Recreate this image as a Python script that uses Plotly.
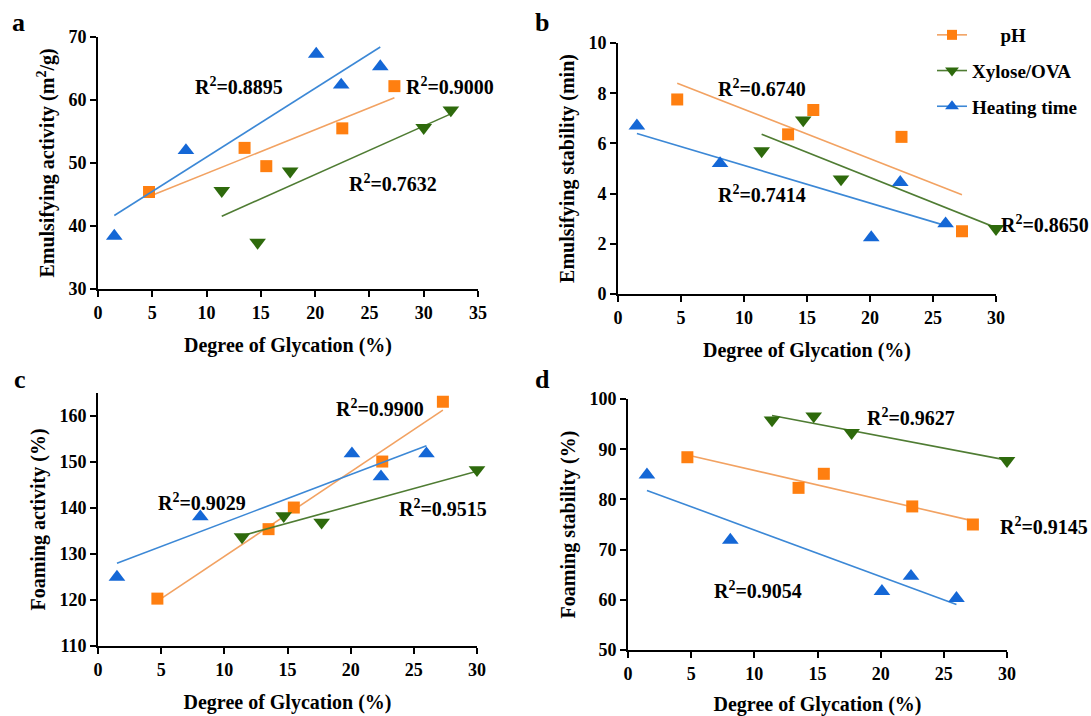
import numpy as np
import plotly.graph_objects as go

W, H = 1091, 716
FONT = "Liberation Serif"

# ---------------- data ----------------
series_names = ["pH", "Xylose/OVA", "Heating time"]

# Degree of glycation (%)
x_ph = [4.7, 13.5, 15.5, 22.5, 27.3]
x_xylose_a = [11.4, 14.7, 17.7, 30.0, 32.5]
x_xylose = [11.4, 14.7, 17.7, 30.0]
x_heat = [1.5, 8.1, 20.1, 22.4, 26.0]

# a: Emulsifying activity (m2/g)
ea_ph = [45.4, 52.4, 49.5, 55.5, 62.2]
ea_xylose = [45.6, 37.4, 48.7, 55.6, 58.4]
ea_heat = [38.4, 52.0, 67.3, 62.4, 65.3]
# b: Emulsifying stability (min)
es_ph = [7.75, 6.36, 7.33, 6.26, 2.5]
es_xylose = [5.7, 6.93, 4.58, 2.6]
es_heat = [6.7, 5.2, 2.25, 4.45, 2.8]
# c: Foaming activity (%)
fa_ph = [120.3, 135.4, 140.1, 150.1, 163.1]
fa_xylose = [133.7, 138.3, 136.9, 148.3]
fa_heat = [125.0, 138.1, 151.8, 146.8, 151.8]
# d: Foaming stability (%)
fs_ph = [88.4, 82.3, 85.1, 78.6, 75.0]
fs_xylose = [95.8, 96.6, 93.3, 87.7]
fs_heat = [84.9, 71.9, 61.7, 64.7, 60.3]

# R2 labels
r2_a = ["0.8895", "0.9000", "0.7632"]
r2_b = ["0.6740", "0.7414", "0.8650"]
r2_c = ["0.9900", "0.9029", "0.9515"]
r2_d = ["0.9627", "0.9145", "0.9054"]

# ---------------- styles ----------------
MK = {"pH": "#FF7F10", "Xylose/OVA": "#2E6A0C", "Heating time": "#1467D6"}
LN = {"pH": "#F2A262", "Xylose/OVA": "#4F7C33", "Heating time": "#3C88D6"}
SYM = {"pH": "square", "Xylose/OVA": "triangle-down", "Heating time": "triangle-up"}
MSIZE = {"pH": 12, "Xylose/OVA": 14.5, "Heating time": 14.5}
LEG_MSIZE = {"pH": 10, "Xylose/OVA": 12, "Heating time": 12}

fig = go.Figure()


def px_x(p):
    return p / W


def px_y(p):
    return 1 - p / H


panels = [
    ("", [x_ph, x_xylose_a, x_heat], [ea_ph, ea_xylose, ea_heat],
     (98, 478), (37, 289), [0, 35], [30, 70], 10, "Emulsifying activity (m<sup>2</sup>/g)"),
    ("2", [x_ph, x_xylose, x_heat], [es_ph, es_xylose, es_heat],
     (618, 996), (43, 294), [0, 30], [0, 10], 2, "Emulsifying stability (min)"),
    ("3", [x_ph, x_xylose, x_heat], [fa_ph, fa_xylose, fa_heat],
     (98, 477), (393, 646), [0, 30], [110, 165], 10, "Foaming activity (%)"),
    ("4", [x_ph, x_xylose, x_heat], [fs_ph, fs_xylose, fs_heat],
     (628, 1007), (399, 650), [0, 30], [50, 100], 10, "Foaming stability (%)"),
]
panel_geom = {}

TICKFONT = dict(family=FONT, size=18, color="black", weight="bold")
TITLEFONT = dict(family=FONT, size=20, color="black", weight="bold")

layout_axes = {}
for suf, xs, ys, xd, yd, xr, yr, ydt, ytitle in panels:
    panel_geom[suf] = (xd, yd, xr, yr)
    xa = "x" + suf
    ya = "y" + suf
    for name, xv, yv in zip(series_names, xs, ys):
        xv = np.array(xv, dtype=float)
        yv = np.array(yv, dtype=float)
        k, b = np.polyfit(xv, yv, 1)
        xl = np.array([xv.min(), xv.max()])
        fig.add_trace(go.Scatter(
            x=xl, y=k * xl + b, mode="lines", xaxis=xa, yaxis=ya,
            line=dict(color=LN[name], width=1.6), showlegend=False, hoverinfo="skip",
        ))
        fig.add_trace(go.Scatter(
            x=xv, y=yv, mode="markers", xaxis=xa, yaxis=ya, cliponaxis=False,
            marker=dict(symbol=SYM[name], size=MSIZE[name], color=MK[name], line=dict(width=0)),
            showlegend=False, name=name,
        ))
    common = dict(showgrid=False, zeroline=False, showline=True, linecolor="black", linewidth=2,
                  ticks="outside", ticklen=6, tickwidth=2, tickcolor="black", tickfont=TICKFONT,
                  automargin=False)
    layout_axes["xaxis" + suf] = dict(
        common, domain=[px_x(xd[0]), px_x(xd[1])], range=xr, dtick=5, tick0=0, anchor=ya,
        title=dict(text="Degree of Glycation (%)", standoff=16, font=TITLEFONT))
    layout_axes["yaxis" + suf] = dict(
        common, domain=[px_y(yd[1]), px_y(yd[0])], range=yr, dtick=ydt, tick0=0, anchor=xa,
        title=dict(text=ytitle, standoff=8, font=TITLEFONT))

# legend entries
for name in series_names:
    fig.add_trace(go.Scatter(
        x=[None], y=[None], mode="lines+markers", xaxis="x2", yaxis="y2",
        name=("\u00a0" * 6 + name) if name == "pH" else name, legendgroup=name,
        line=dict(color=LN[name], width=1.6),
        marker=dict(symbol=SYM[name], size=LEG_MSIZE[name], color=MK[name]),
    ))

# R2 annotations: positions given in data units of each panel, placed in paper space
ann_pos = [
    ("", r2_a, [(13.0, 62.2), (32.4, 62.2), (27.2, 46.8)]),
    ("2", r2_b, [(11.4, 8.2), (11.4, 4.0), (33.9, 2.8)]),
    ("3", r2_c, [(22.3, 161.7), (8.2, 141.3), (27.3, 140.0)]),
    ("4", r2_d, [(22.4, 96.4), (32.9, 74.8), (10.3, 61.9)]),
]


def to_paper(suf, xv, yv):
    xd, yd, xr, yr = panel_geom[suf]
    pxv = xd[0] + (xv - xr[0]) / (xr[1] - xr[0]) * (xd[1] - xd[0])
    pyv = yd[1] - (yv - yr[0]) / (yr[1] - yr[0]) * (yd[1] - yd[0])
    return px_x(pxv), px_y(pyv)


annotations = []
for suf, labels, pos in ann_pos:
    for lab, (ax_, ay_) in zip(labels, pos):
        qx, qy = to_paper(suf, ax_, ay_)
        annotations.append(dict(
            x=qx, y=qy, xref="paper", yref="paper", text="R<sup>2</sup>=" + lab,
            xanchor="center", yanchor="middle", showarrow=False,
            font=dict(family=FONT, size=20, color="black", weight="bold"),
        ))

for lab, (lx, ly) in zip(["a", "b", "c", "d"], [(18, 22), (542, 22), (20, 379), (542, 379)]):
    annotations.append(dict(
        x=px_x(lx), y=px_y(ly), xref="paper", yref="paper", text=lab, showarrow=False,
        xanchor="center", yanchor="middle",
        font=dict(family=FONT, size=26, color="black", weight="bold"),
    ))

fig.update_layout(
    template="none",
    width=W, height=H, margin=dict(l=0, r=0, t=0, b=0, pad=0),
    paper_bgcolor="white", plot_bgcolor="white",
    font=dict(family=FONT, size=18, color="black"),
    annotations=annotations,
    legend=dict(x=px_x(932), y=px_y(16), xanchor="left", yanchor="top",
                font=dict(family=FONT, size=19, color="black", weight="bold"),
                bgcolor="rgba(0,0,0,0)", borderwidth=0, tracegroupgap=8, itemsizing="trace"),
    showlegend=True,
    **layout_axes,
)

fig.write_html("out.html")
